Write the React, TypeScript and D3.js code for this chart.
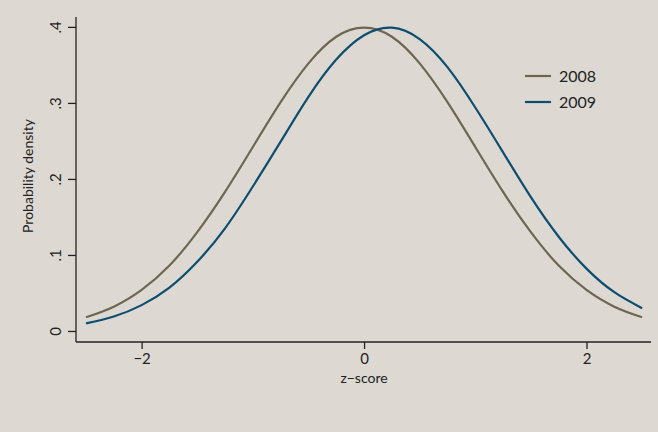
import React, { useEffect, useRef } from "react";
import * as d3 from "d3";

// z-score grid and densities
const zScores = [-2.5, -2.25, -2, -1.75, -1.5, -1.25, -1, -0.75, -0.5, -0.25, 0, 0.25, 0.5, 0.75, 1, 1.25, 1.5, 1.75, 2, 2.25, 2.5];
const density2008 = [0.018, 0.032, 0.054, 0.086, 0.13, 0.183, 0.242, 0.301, 0.352, 0.387, 0.399, 0.387, 0.352, 0.301, 0.242, 0.183, 0.13, 0.086, 0.054, 0.032, 0.018];
const density2009 = [0.01, 0.019, 0.034, 0.057, 0.091, 0.135, 0.19, 0.249, 0.308, 0.357, 0.389, 0.399, 0.384, 0.347, 0.294, 0.235, 0.176, 0.124, 0.082, 0.051, 0.03];
const seriesNames = ["2008", "2009"];
const seriesColors = ["#6f6553", "#0c4d70"];
const xTicks = [-2, 0, 2];
const yTicks = [0, 0.1, 0.2, 0.3, 0.4];
const yTickLabels = ["0", ".1", ".2", ".3", ".4"];

const W = 658;
const H = 432;
const FONT = "Lato, 'Noto Sans', sans-serif";

export default function App() {
  const ref = useRef<SVGSVGElement | null>(null);

  useEffect(() => {
    document.body.style.margin = "0";
    const svg = d3.select(ref.current);
    svg.selectAll("*").remove();

    svg.append("rect").attr("width", W).attr("height", H).attr("fill", "#ddd9d2");

    const x = d3.scaleLinear().domain([-2.59, 2.58]).range([76, 651]);
    const y = d3.scaleLinear().domain([-0.0145, 0.413]).range([342, 17]);

    // y axis
    const yAxisG = svg.append("g").attr("transform", "translate(76,0)")
      .call(d3.axisLeft(y).tickValues(yTicks).tickSize(8).tickPadding(10)
        .tickFormat((_, i) => yTickLabels[i]));
    yAxisG.select(".domain").attr("stroke", "#222").attr("stroke-width", 1.3).attr("d", `M0,${y.range()[1]}V${y.range()[0]}`);
    yAxisG.selectAll(".tick line").attr("stroke", "#222").attr("stroke-width", 1.3);
    yAxisG.selectAll(".tick text")
      .attr("font-family", FONT).attr("font-size", 15).attr("fill", "#222")
      .attr("transform", "rotate(-90)")
      .attr("x", 0).attr("y", -18).attr("dy", "0.35em")
      .attr("text-anchor", "middle")
      .each(function () {
        const t = d3.select(this);
        t.attr("dy", null).attr("dominant-baseline", "middle");
      });
    // rotate labels around their tick positions
    yAxisG.selectAll<SVGTextElement, number>(".tick text")
      .attr("transform", "rotate(-90)")
      .attr("x", 0).attr("y", -19);

    // x axis
    const xAxisG = svg.append("g").attr("transform", "translate(0,342)")
      .call(d3.axisBottom(x).tickValues(xTicks).tickSize(7).tickPadding(4)
        .tickFormat((d) => d3.format("")(d as number).replace("-", "\u2212")));
    xAxisG.select(".domain").attr("stroke", "#222").attr("stroke-width", 1.3).attr("d", `M${x.range()[0]},0H${x.range()[1]}`);
    xAxisG.selectAll(".tick line").attr("stroke", "#222").attr("stroke-width", 1.3);
    xAxisG.selectAll(".tick text").attr("font-family", FONT).attr("font-size", 15).attr("fill", "#222");

    svg.append("text").attr("x", 364).attr("y", 383).attr("text-anchor", "middle")
      .attr("font-family", FONT).attr("font-size", 14).attr("fill", "#222").text("z\u2212score");

    svg.append("text").attr("transform", "translate(33,176) rotate(-90)").attr("text-anchor", "middle")
      .attr("font-family", FONT).attr("font-size", 14).attr("fill", "#222").text("Probability density");

    const line = d3.line<[number, number]>().x((d) => x(d[0])).y((d) => y(d[1])).curve(d3.curveNatural);
    [density2008, density2009].forEach((vals, i) => {
      svg.append("path")
        .datum(zScores.map((z, j) => [z, vals[j]] as [number, number]))
        .attr("d", line).attr("fill", "none")
        .attr("stroke", seriesColors[i]).attr("stroke-width", 2.2);
    });

    // legend
    seriesNames.forEach((name, i) => {
      const ly = 76 + i * 26;
      svg.append("line").attr("x1", 525).attr("x2", 551).attr("y1", ly).attr("y2", ly)
        .attr("stroke", seriesColors[i]).attr("stroke-width", 2.2);
      svg.append("text").attr("x", 559).attr("y", ly).attr("dy", "0.36em")
        .attr("font-family", FONT).attr("font-size", 16).attr("fill", "#222").text(name);
    });
  }, []);

  return <svg ref={ref} width={W} height={H} style={{ display: "block" }} />;
}
